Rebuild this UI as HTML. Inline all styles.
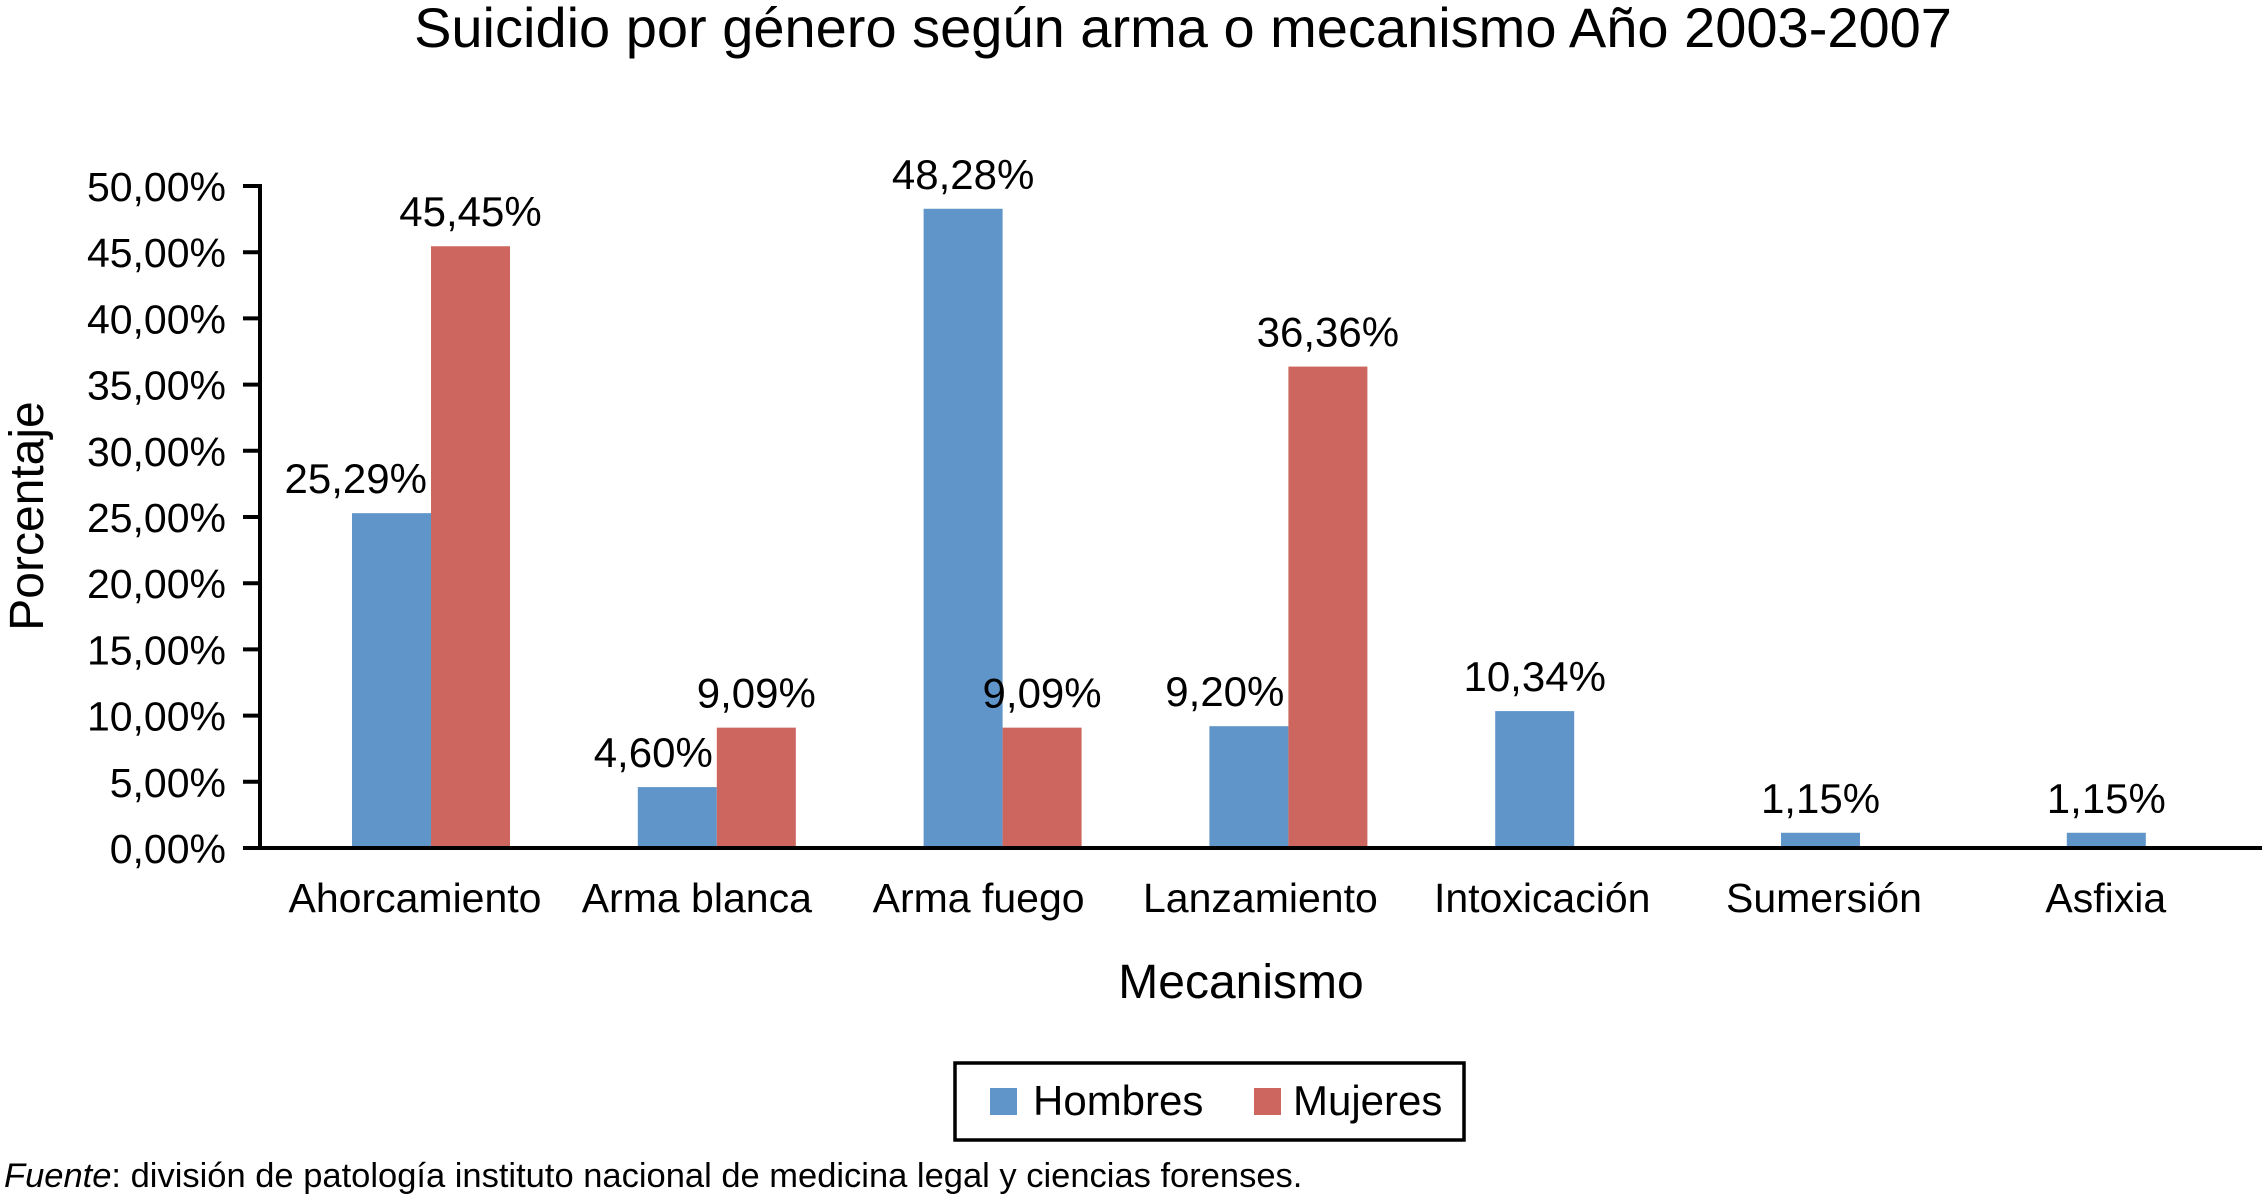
<!DOCTYPE html>
<html><head><meta charset="utf-8"><style>
body{margin:0;background:#fff;}
svg{display:block;font-family:"Liberation Sans",Arial,sans-serif;}
</style></head><body>
<svg id="chart" width="2262" height="1194" viewBox="0 0 2262 1194">
<text x="1183" y="47" font-size="56" text-anchor="middle">Suicidio por género según arma o mecanismo Año 2003-2007</text>
<text transform="translate(43,516) rotate(-90)" font-size="48" text-anchor="middle">Porcentaje</text>
<text x="1241" y="998" font-size="48" text-anchor="middle">Mecanismo</text>
<g id="axes"></g>
<g id="bars"></g>
<rect x="955" y="1063" width="509" height="77" fill="#fff" stroke="#000" stroke-width="3.5"/>
<rect x="990" y="1088" width="27" height="27" fill="#6095c9"/>
<text x="1033" y="1115" font-size="42">Hombres</text>
<rect x="1254" y="1088" width="27" height="27" fill="#cd665e"/>
<text x="1293" y="1115" font-size="42">Mujeres</text>
<text x="4" y="1187" font-size="34.5"><tspan font-style="italic">Fuente</tspan>: división de patología instituto nacional de medicina legal y ciencias forenses.</text>
</svg>
<script>
const categories=["Ahorcamiento","Arma blanca","Arma fuego","Lanzamiento","Intoxicación","Sumersión","Asfixia"];
const hombres=[25.29,4.60,48.28,9.20,10.34,1.15,1.15];
const mujeres=[45.45,9.09,9.09,36.36,null,null,null];
const yTicks=[0,5,10,15,20,25,30,35,40,45,50];
const NS="http://www.w3.org/2000/svg";
const axisX=260, y0=848, y50=186;
function y(v){return y0-(v/50)*(y0-y50);}
function cx(i){return 431+i*285.8;}
function lx(i){return 415+i*281.8;}
const bw=79;
function mk(tag,attrs,parent,txt){const e=document.createElementNS(NS,tag);for(const k in attrs)e.setAttribute(k,attrs[k]);if(txt!==undefined)e.textContent=txt;parent.appendChild(e);return e;}
function fmt(v){return v.toFixed(2).replace('.',',')+'%';}
const axes=document.getElementById('axes'), bars=document.getElementById('bars');
let l=mk('line',{x1:axisX,y1:y50-2,x2:axisX,y2:y0,stroke:'#000','stroke-width':4},axes);


l=mk('line',{x1:axisX-17,y1:y0,x2:2262,y2:y0,stroke:'#000','stroke-width':4},axes);


yTicks.forEach(t=>{
  const tk=mk('line',{x1:axisX-17,y1:y(t),x2:axisX,y2:y(t),stroke:'#000','stroke-width':4},axes);
  
  
  const tl=mk('text',{x:axisX-34,y:y(t)+15,'font-size':41,'text-anchor':'end'},axes,t.toFixed(2).replace('.',',')+'%');
  
  
});
categories.forEach((c,i)=>{
  const cl=mk('text',{x:lx(i),y:912,'font-size':41,'text-anchor':'middle'},axes,c);
  
  
  [[hombres[i],'#6095c9',-1,'hombres'],[mujeres[i],'#cd665e',0,'mujeres']].forEach(([v,col,off,s])=>{
    if(v===null||v===undefined)return;
    const x=cx(i)+off*bw;
    const r=mk('rect',{x:x,y:y(v),width:bw,height:y0-2-y(v),fill:col},bars);
    
    
    const shifted = off<0 && mujeres[i]!==null && mujeres[i]>v;
    const vl=mk('text',shifted?{x:x+bw-4,y:y(v)-20,'font-size':42,'text-anchor':'end'}:{x:x+bw/2,y:y(v)-20,'font-size':42,'text-anchor':'middle'},bars,fmt(v));
    
    
  });
});
</script>
</body></html>
